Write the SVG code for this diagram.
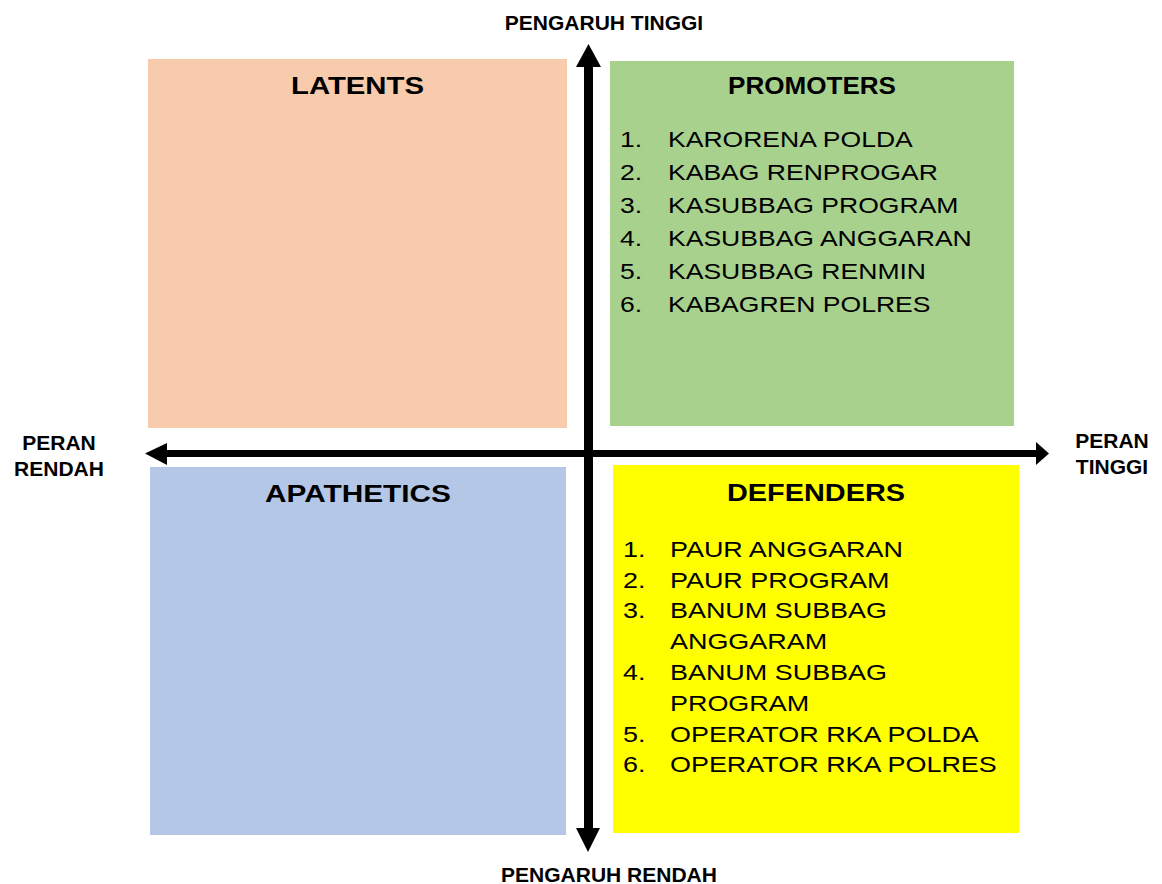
<svg xmlns="http://www.w3.org/2000/svg" width="1162" height="884" viewBox="0 0 1162 884">
<style>
text{font-family:"Liberation Sans",Arial,sans-serif;fill:#000}
.title{font-size:24px;font-weight:bold;text-anchor:middle}
.axis{font-size:21px;font-weight:bold;text-anchor:middle}
.item{font-size:22.5px}
</style>
<rect width="1162" height="884" fill="#fff"/>
<g id="latents">
<rect x="148" y="59" width="419" height="369" fill="#F7CBAC"/>
<text class="title" x="357.5" y="94" textLength="133" lengthAdjust="spacingAndGlyphs">LATENTS</text>
</g>
<g id="promoters">
<rect x="610" y="61" width="404" height="365" fill="#A9D18E"/>
<text class="title" x="812" y="94" style="font-size:23.5px" textLength="168" lengthAdjust="spacingAndGlyphs">PROMOTERS</text>
<g transform="translate(620 0) scale(1.18 1)">
<text class="item" x="0" y="147">1.</text><text class="item" x="40.7" y="147">KARORENA POLDA</text>
<text class="item" x="0" y="180">2.</text><text class="item" x="40.7" y="180">KABAG RENPROGAR</text>
<text class="item" x="0" y="213">3.</text><text class="item" x="40.7" y="213">KASUBBAG PROGRAM</text>
<text class="item" x="0" y="246">4.</text><text class="item" x="40.7" y="246">KASUBBAG ANGGARAN</text>
<text class="item" x="0" y="279">5.</text><text class="item" x="40.7" y="279">KASUBBAG RENMIN</text>
<text class="item" x="0" y="312">6.</text><text class="item" x="40.7" y="312">KABAGREN POLRES</text>
</g>
</g>
<g id="apathetics">
<rect x="150" y="467" width="416" height="368" fill="#B4C7E7"/>
<text class="title" x="358" y="502" textLength="186" lengthAdjust="spacingAndGlyphs">APATHETICS</text>
</g>
<g id="defenders">
<rect x="613" y="465" width="406" height="368" fill="#FFFF00"/>
<text class="title" x="816" y="501" textLength="178" lengthAdjust="spacingAndGlyphs">DEFENDERS</text>
<g transform="translate(623 0) scale(1.198 1)">
<text class="item" x="0" y="557">1.</text><text class="item" x="39.2" y="557">PAUR ANGGARAN</text>
<text class="item" x="0" y="588">2.</text><text class="item" x="39.2" y="588">PAUR PROGRAM</text>
<text class="item" x="0" y="618">3.</text><text class="item" x="39.2" y="618">BANUM SUBBAG</text>
<text class="item" x="39.2" y="649">ANGGARAM</text>
<text class="item" x="0" y="680">4.</text><text class="item" x="39.2" y="680">BANUM SUBBAG</text>
<text class="item" x="39.2" y="711">PROGRAM</text>
<text class="item" x="0" y="742">5.</text><text class="item" x="39.2" y="742">OPERATOR RKA POLDA</text>
<text class="item" x="0" y="772">6.</text><text class="item" x="39.2" y="772">OPERATOR RKA POLRES</text>
</g>
</g>
<g id="connectors">
<rect x="584" y="66" width="9" height="763" fill="#000"/>
<polygon points="588.5,44 601,67 576,67" fill="#000"/>
<polygon points="588,852 600,828 576,828" fill="#000"/>
<rect x="166" y="450" width="871" height="7" fill="#000"/>
<polygon points="145,453.5 167,443 167,465" fill="#000"/>
<polygon points="1036,442 1049,453.5 1036,465" fill="#000"/>
</g>
<g id="axis-labels">
<text class="axis" x="604" y="30">PENGARUH TINGGI</text>
<text class="axis" x="609" y="882">PENGARUH RENDAH</text>
<text class="axis" x="59" y="450">PERAN</text>
<text class="axis" x="59" y="476">RENDAH</text>
<text class="axis" x="1112" y="448">PERAN</text>
<text class="axis" x="1112" y="474">TINGGI</text>
</g>
</svg>
